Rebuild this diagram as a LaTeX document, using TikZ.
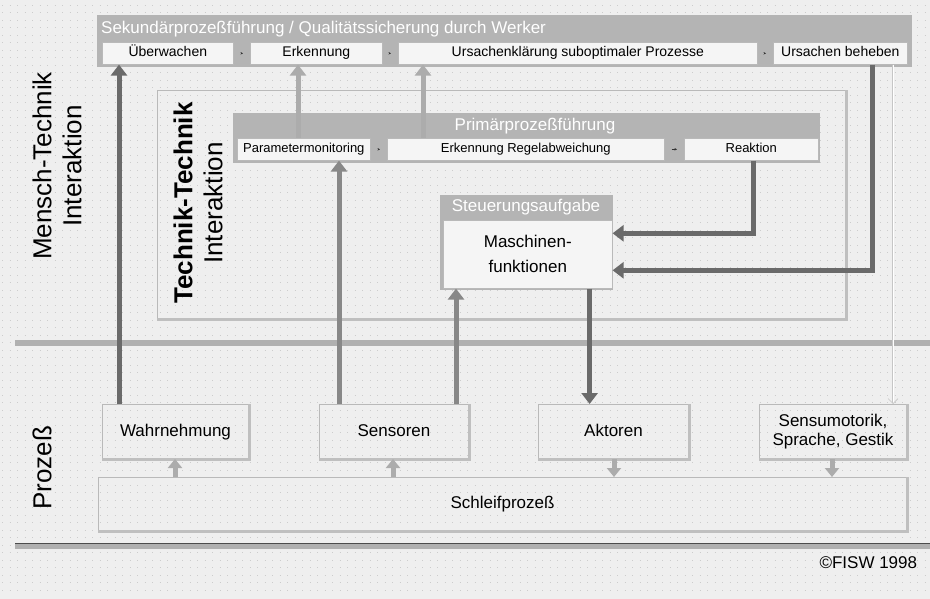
\documentclass[tikz,border=0pt]{standalone}
\usepackage{fontspec}
\setmainfont{Liberation Sans}
\usetikzlibrary{arrows.meta}

\definecolor{bgcol}{HTML}{EFEFEF}
\definecolor{bannergray}{HTML}{B4B4B4}
\definecolor{boxfill}{HTML}{F5F5F5}
\definecolor{arrowdark}{HTML}{6A6A6A}
\definecolor{arrowmid}{HTML}{888888}
\definecolor{arrowlight}{HTML}{ACACAC}
\definecolor{rulegray}{HTML}{B0B0B0}

\tikzset{
	dotrow/.style={draw=gray!40, line width=0.8pt, dash pattern=on 0.8pt off 6.7pt},
	rulebar/.style={draw=rulegray, line width=6pt},
	shadowbar/.style={draw=gray!50, line width=3pt},
	banner/.style={fill=bannergray, draw=none, inner sep=0pt, anchor=north west},
	bantitle/.style={text=white, inner sep=0pt, font=\fontsize{17}{20}\selectfont},
	subbox/.style={fill=boxfill, draw=gray!55, line width=0.6pt, inner sep=0pt, anchor=north west,
		text height=10pt, text depth=3pt, font=\fontsize{14}{16}\selectfont},
	primbox/.style={subbox, text height=9.5pt, text depth=3pt, font=\fontsize{13}{15}\selectfont},
	procbox/.style={draw=gray!55, line width=1pt, inner sep=0pt, anchor=north west, align=center, font=\fontsize{17}{19}\selectfont},
	onerow/.style={text height=12.5pt, text depth=3.5pt},
	ttframe/.style={draw=gray!55, line width=1pt, inner sep=0pt, anchor=north west},
	sidelabel/.style={rotate=90, align=center, font=\fontsize{26}{30}\selectfont},
	tinyarrow/.style={draw=gray!40!black, line width=0.4pt, shorten <=7pt, shorten >=7pt, -{Stealth[length=2.5pt,width=2.5pt]}},
	bigdark/.style={draw=arrowdark, line width=5pt, -{Triangle[length=11pt,width=16pt]}},
	bigmid/.style={bigdark, draw=arrowmid},
	biglight/.style={bigdark, draw=arrowlight},
	smallup/.style={draw=arrowlight, line width=5pt, -{Triangle[length=9pt,width=14pt]}},
	thinarrow/.style={draw=gray!45, line width=0.6pt, double=white, double distance=1pt, -{Straight Barb[length=5pt,width=10pt]}}
}

\begin{document}
\begin{tikzpicture}[x=1pt, y=-1pt]
	\useasboundingbox (0,0) rectangle (930,599);

	%Hintergrund mit Punktraster
	\fill[bgcol] (0,0) rectangle (930,599);
	\foreach \y in {5,12.5,...,595}
		\draw[dotrow] (2,\y) -- (930,\y);

	%Trennlinien
	\draw[rulebar] (15,343) -- (930,343);
	\draw[rulebar] (15,546) -- (930,546);
	\draw[gray!60!black, line width=0.8pt] (15,543) -- (930,543);

	%Rahmen Technik-Technik
	\node[ttframe, minimum width=688pt, minimum height=228pt] (ttrahmen) at (157,90) {};
	\draw[shadowbar] (ttrahmen.south west) -- (ttrahmen.south east) -- (ttrahmen.north east);

	%Beschriftung links
	\node[sidelabel] (mtlabel) at (57,166) {Mensch-Technik\\Interaktion};
	\node[sidelabel] (ttlabel) at (198,203) {\textbf{Technik-Technik}\\Interaktion};
	\node[sidelabel] (prozlabel) at (42,468) {Prozeß};

	%Sekundaerprozess
	\node[banner, minimum width=815pt, minimum height=52pt] (sekban) at (97,15) {};
	\node[bantitle, anchor=west] (sektitel) at (101,29) {Sekundärprozeßführung / Qualitätssicherung durch Werker};
	\node[subbox, minimum width=131pt, minimum height=22pt] (ueberw) at (102,42) {Überwachen};
	\node[subbox, minimum width=132pt, minimum height=22pt] (erk) at (250,42) {Erkennung};
	\node[subbox, minimum width=359pt, minimum height=22pt] (ursklar) at (398,42) {Ursachenklärung suboptimaler Prozesse};
	\node[subbox, minimum width=134pt, minimum height=22pt] (ursbeh) at (773,42) {Ursachen beheben};
	\draw[tinyarrow] (ueberw.east) -- (erk.west);
	\draw[tinyarrow] (erk.east) -- (ursklar.west);
	\draw[tinyarrow] (ursklar.east) -- (ursbeh.west);

	%Primaerprozess
	\node[banner, minimum width=587pt, minimum height=50pt] (primban) at (233,113) {};
	\node[bantitle] (primtitel) at (535,126) {Primärprozeßführung};
	\node[primbox, minimum width=133pt, minimum height=22pt] (param) at (237,138) {Parametermonitoring};
	\node[primbox, minimum width=277pt, minimum height=22pt] (erkregel) at (387,138) {Erkennung Regelabweichung};
	\node[primbox, minimum width=134pt, minimum height=22pt] (reakt) at (684,138) {Reaktion};
	\draw[tinyarrow] (param.east) -- (erkregel.west);
	\draw[tinyarrow] (erkregel.east) -- (reakt.west);

	%Steuerungsaufgabe
	\node[banner, minimum width=173pt, minimum height=95pt] (steuban) at (440,195) {};
	\node[bantitle] (steutitel) at (526,207) {Steuerungsaufgabe};
	\node[subbox, minimum width=169pt, minimum height=68pt, align=center, text height=, text depth=,
		font=\fontsize{17}{25}\selectfont] (masch) at (443,220) {Maschinen-\\funktionen};

	%Prozessebene
	\node[procbox, onerow, minimum width=146pt, minimum height=54pt] (wahrn) at (102,404) {Wahrnehmung};
	\node[procbox, onerow, minimum width=149pt, minimum height=54pt] (sens) at (319,404) {Sensoren};
	\node[procbox, onerow, minimum width=150pt, minimum height=54pt] (akt) at (538,404) {Aktoren};
	\node[procbox, minimum width=147pt, minimum height=54pt] (sensmot) at (759,404) {Sensumotorik,\\Sprache, Gestik};
	\node[procbox, onerow, minimum width=808pt, minimum height=53pt] (schleif) at (98,477) {Schleifprozeß};
	\foreach \n in {wahrn, sens, akt, sensmot, schleif}
		\draw[shadowbar] (\n.south west) -- (\n.south east) -- (\n.north east);

	%Copyright
	\node[anchor=west, font=\fontsize{17}{20}\selectfont] (fisw) at (816,563) {\textcopyright FISW 1998};

	%Pfeile Mensch-Technik
	\draw[bigdark] ([xshift=17pt]wahrn.north west) -- ([xshift=17pt]wahrn.north west |- ueberw.south);
	\draw[biglight] ([xshift=61pt]param.north west) -- ([xshift=61pt]param.north west |- erk.south);
	\draw[biglight] ([xshift=36pt]erkregel.north west) -- ([xshift=36pt]erkregel.north west |- ursklar.south);
	\draw[bigdark] ([xshift=99pt]ursbeh.south west) |- ([yshift=-16pt]masch.east);
	\draw[thinarrow] ([xshift=120pt]ursbeh.south west) -- ([xshift=120pt]ursbeh.south west |- sensmot.north);

	%Pfeile Technik-Technik
	\draw[bigmid] ([xshift=20pt]sens.north west) -- ([xshift=20pt]sens.north west |- param.south);
	\draw[bigmid] ([xshift=13pt]masch.south west |- sens.north) -- ([xshift=13pt]masch.south west);
	\draw[bigdark] ([xshift=-65pt]reakt.south east) |- ([yshift=21pt]masch.east);
	\draw[bigdark] ([xshift=-23pt]masch.south east) -- ([xshift=-23pt]masch.south east |- akt.north);

	%Pfeile Prozess
	\draw[smallup] ([xshift=73pt]wahrn.south west |- schleif.north) -- ([xshift=73pt]wahrn.south west);
	\draw[smallup] ([xshift=74pt]sens.south west |- schleif.north) -- ([xshift=74pt]sens.south west);
	\draw[smallup] ([xshift=76pt]akt.south west) -- ([xshift=76pt]akt.south west |- schleif.north);
	\draw[smallup] ([xshift=73pt]sensmot.south west) -- ([xshift=73pt]sensmot.south west |- schleif.north);

\end{tikzpicture}
\end{document}
